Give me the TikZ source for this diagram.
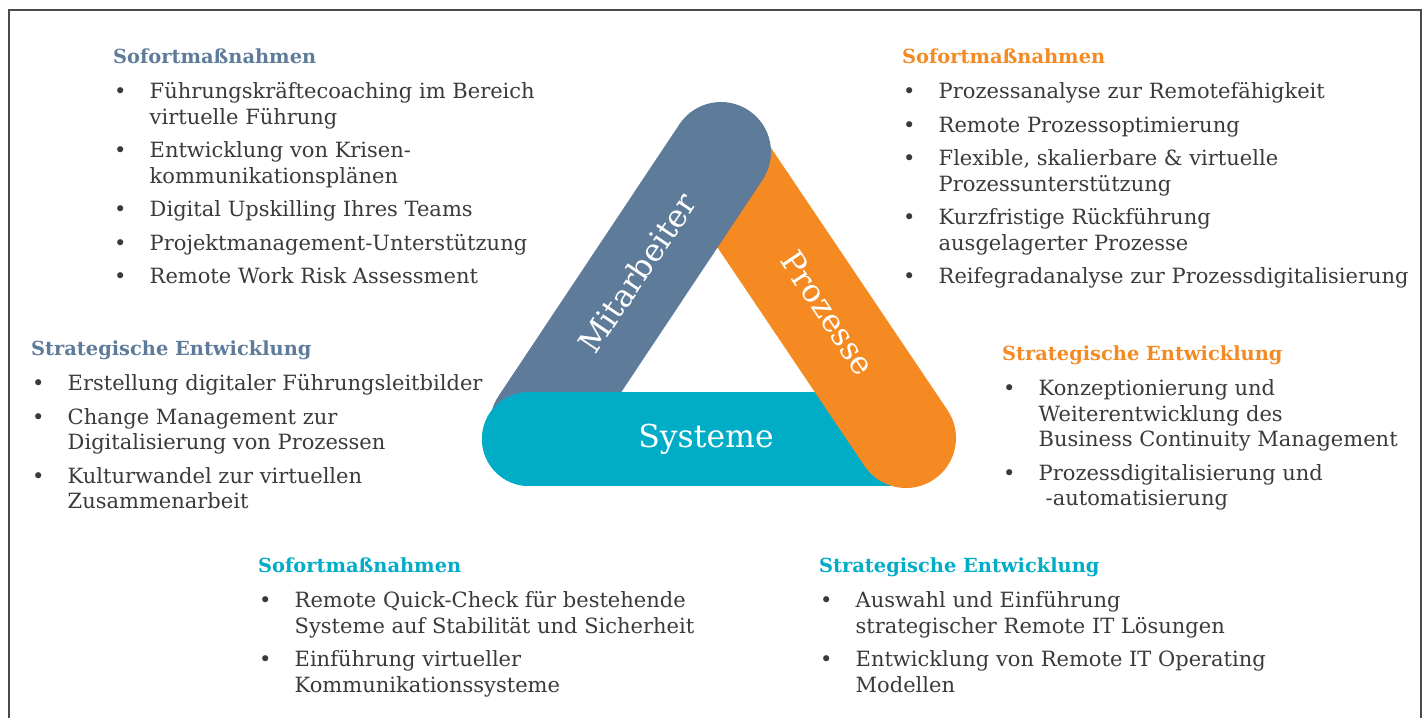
\documentclass[tikz,border=0pt]{standalone}
\usepackage{fontspec}
\setmainfont{DejaVu Serif}
\usetikzlibrary{positioning}

\definecolor{mablue}{HTML}{5E7B9A}
\definecolor{prorange}{HTML}{F48A21}
\definecolor{systeal}{HTML}{00ACC6}
\definecolor{txtgray}{HTML}{3A3A3A}
\definecolor{framegray}{HTML}{4A4A4A}

\newcommand{\bul}{\makebox[36.5pt][l]{\hspace*{1pt}\textbullet}}
\newcommand{\ind}{\hspace*{36.5pt}}

\tikzset{
  head/.style={anchor=base west, inner sep=0pt, font=\fontsize{19.4}{25.5}\selectfont\bfseries},
  list/.style={anchor=north west, inner sep=0pt, align=left, text=txtgray,
    font=\fontsize{21}{25.5}\selectfont, execute at begin node={\rule{0pt}{20pt}}},
  band/.style={line width=100pt, line cap=round},
  bandlabel/.style={text=white, inner sep=0pt, font=\fontsize{31.5}{31.5}\selectfont}
}

\begin{document}
\begin{tikzpicture}[x=1pt,y=-1pt]
  \useasboundingbox (0,0) rectangle (1428,718);
  \draw[framegray, line width=1.5pt] (9,718) -- (9,10) -- (1421,10) -- (1421,718);

  % triangle
  \coordinate (sl) at (529,439);
  \coordinate (sr) at (895,439);
  \coordinate (pt) at (729,175);
  \coordinate (pb) at (906,438);
  \coordinate (mb) at (540,424);
  \coordinate (mt) at (721,152);
  \draw[band, line width=94pt, systeal] (sl) -- (sr);
  \draw[band, prorange] (pt) -- (pb);
  \draw[band, mablue] (mb) -- (mt);
  \begin{scope}
    \clip (470,380) rectangle (700,500);
    \draw[band, line width=94pt, systeal] (sl) -- (sr);
  \end{scope}
  \node[bandlabel, rotate=56] (mit) at (637,273) {Mitarbeiter};
  \node[bandlabel, rotate=-56] (pro) at (828,313) {Prozesse};
  \node[bandlabel] (sys) at (706,439) {Systeme};

  % Mitarbeiter
  \node[head, text=mablue] (msof) at (113,63) {\strut Sofortmaßnahmen};
  \node[list, below=11.5pt of msof.south west, anchor=north west] (msofl) {%
    \bul Führungskräftecoaching im Bereich\\
    \ind virtuelle Führung\\[8pt]
    \bul Entwicklung von Krisen-\\
    \ind kommunikationsplänen\\[8pt]
    \bul Digital Upskilling Ihres Teams\\[8pt]
    \bul Projektmanagement-Unterstützung\\[8pt]
    \bul Remote Work Risk Assessment};
  \node[head, text=mablue] (mstr) at (31,355) {\strut Strategische Entwicklung};
  \node[list, below=11.5pt of mstr.south west, anchor=north west] (mstrl) {%
    \bul Erstellung digitaler Führungsleitbilder\\[8pt]
    \bul Change Management zur\\
    \ind Digitalisierung von Prozessen\\[8pt]
    \bul Kulturwandel zur virtuellen\\
    \ind Zusammenarbeit};

  % Prozesse
  \node[head, text=prorange] (psof) at (902,63) {\strut Sofortmaßnahmen};
  \node[list, below=11.5pt of psof.south west, anchor=north west] (psofl) {%
    \bul Prozessanalyse zur Remotefähigkeit\\[8pt]
    \bul Remote Prozessoptimierung\\[8pt]
    \bul Flexible, skalierbare \& virtuelle\\
    \ind Prozessunterstützung\\[8pt]
    \bul Kurzfristige Rückführung\\
    \ind ausgelagerter Prozesse\\[8pt]
    \bul Reifegradanalyse zur Prozessdigitalisierung};
  \node[head, text=prorange] (pstr) at (1002,360) {\strut Strategische Entwicklung};
  \node[list, below=11.5pt of pstr.south west, anchor=north west] (pstrl) {%
    \bul Konzeptionierung und\\
    \ind Weiterentwicklung des\\
    \ind Business Continuity Management\\[8pt]
    \bul Prozessdigitalisierung und\\
    \ind\hspace*{7pt}-automatisierung};

  % Systeme
  \node[head, text=systeal] (ssof) at (258,572) {\strut Sofortmaßnahmen};
  \node[list, below=11.5pt of ssof.south west, anchor=north west] (ssofl) {%
    \bul Remote Quick-Check für bestehende\\
    \ind Systeme auf Stabilität und Sicherheit\\[8pt]
    \bul Einführung virtueller\\
    \ind Kommunikationssysteme};
  \node[head, text=systeal] (sstr) at (819,572) {\strut Strategische Entwicklung};
  \node[list, below=11.5pt of sstr.south west, anchor=north west] (sstrl) {%
    \bul Auswahl und Einführung\\
    \ind strategischer Remote IT Lösungen\\[8pt]
    \bul Entwicklung von Remote IT Operating\\
    \ind Modellen};
\end{tikzpicture}
\end{document}
